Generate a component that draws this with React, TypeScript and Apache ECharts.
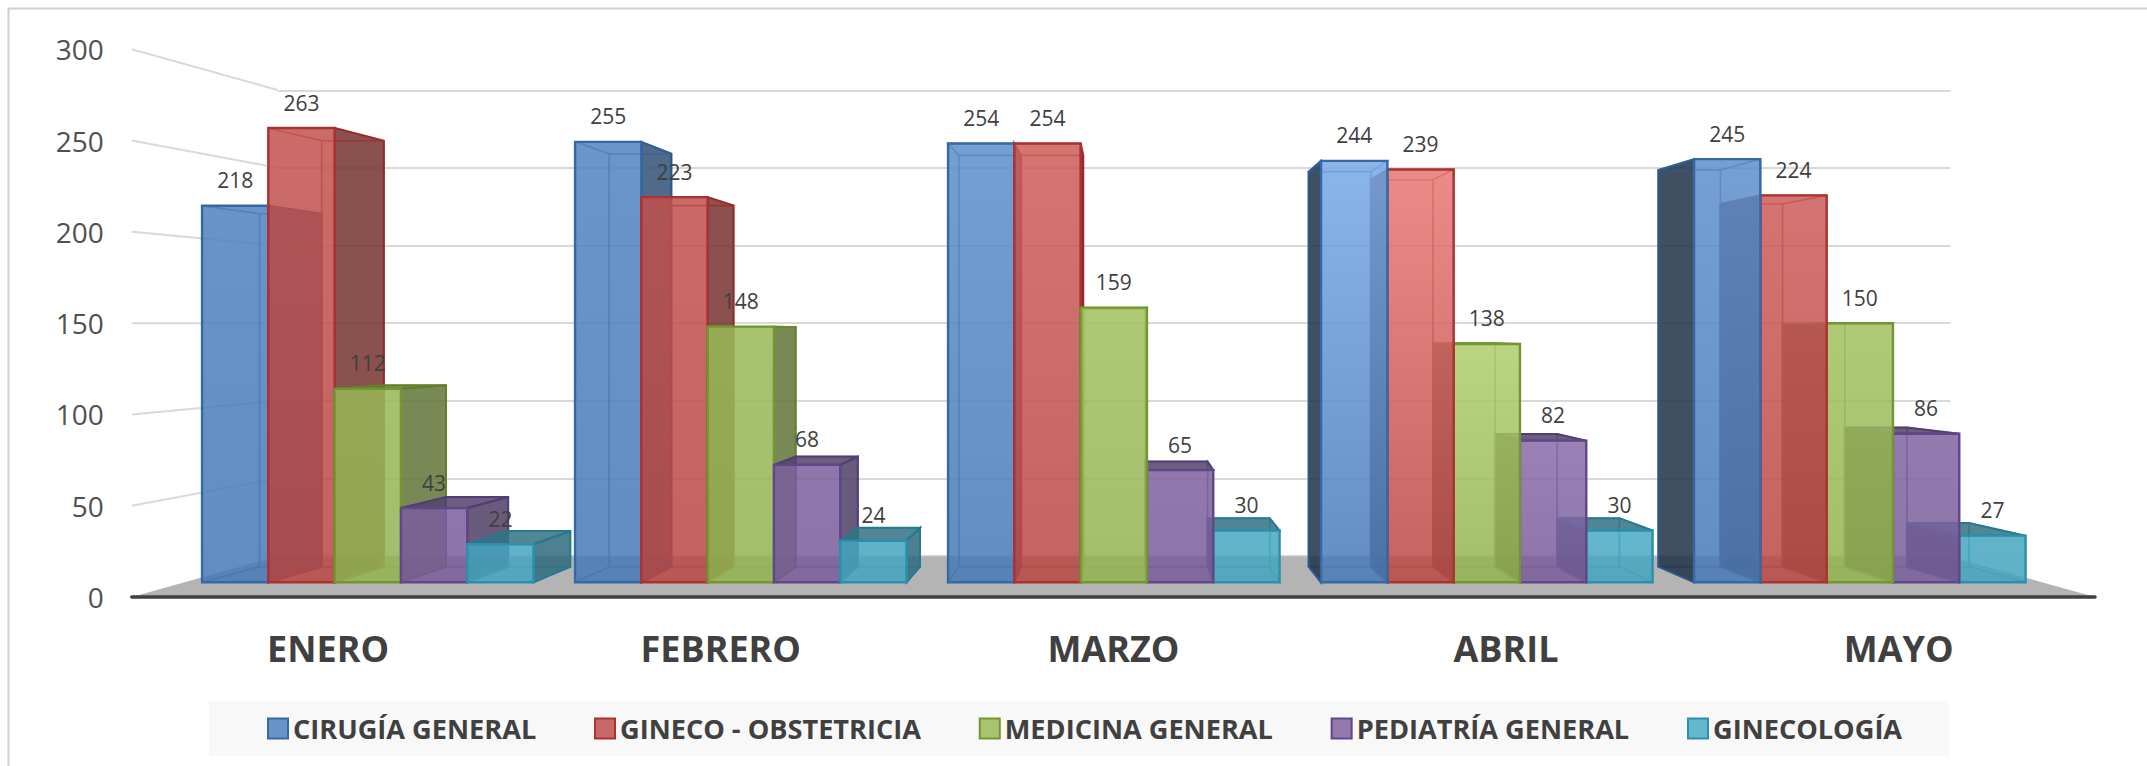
import React, { useEffect, useRef } from "react";
import * as echarts from "echarts";

const months = ["ENERO", "FEBRERO", "MARZO", "ABRIL", "MAYO"];
const seriesNames = ["CIRUGÍA GENERAL", "GINECO - OBSTETRICIA", "MEDICINA GENERAL", "PEDIATRÍA GENERAL", "GINECOLOGÍA"];
const cirugia = [218, 255, 254, 244, 245];
const gineco = [263, 223, 254, 239, 224];
const medicina = [112, 148, 159, 138, 150];
const pediatria = [43, 68, 65, 82, 86];
const ginecologia = [22, 24, 30, 30, 27];
const wallTicks = [0, 50, 100, 150, 200, 250, 300];

const allValues = [cirugia, gineco, medicina, pediatria, ginecologia];
const baseColors = [
  [79, 129, 189],
  [192, 80, 77],
  [155, 187, 89],
  [128, 100, 162],
  [75, 172, 198],
];
const edgeColors = [
  [54, 104, 166],
  [170, 50, 50],
  [116, 150, 48],
  [96, 72, 136],
  [44, 144, 172],
];
// front-face light per month (added to rgb at the top of a tall bar)
const monthLight = [2, 2, 14, 44, 16];

const ALPHA = 0.85;
const FONT = '"Open Sans", sans-serif';
const W = 2147;
const H = 766;

// perspective of the bars: front plane -> back plane
const VX = 1122;
const VY = 333;
const DEPTH = 0.9375;
const BAR_SHARE = 66.3 / 373;

const project = (p: number[]) => [VX + DEPTH * (p[0] - VX), VY + DEPTH * (p[1] - VY)];
const clamp = (c: number) => Math.max(0, Math.min(255, Math.round(c)));
const rgba = (c: number[], a: number) => `rgba(${clamp(c[0])},${clamp(c[1])},${clamp(c[2])},${a})`;
const mul = (c: number[], f: number) => c.map((x) => x * f);
const add = (c: number[], d: number) => c.map((x) => x + d);

function barRenderer(si: number) {
  return (_params: any, api: any) => {
    const cat = api.value(0);
    const val = api.value(1);
    const center = api.coord([cat, val]);
    const base = api.coord([cat, 0]);
    const band = api.size([1, 0])[0];
    const bw = band * BAR_SHARE;
    const xL = center[0] + (si - 2.5) * bw;
    const xR = xL + bw;
    const yT = center[1];
    const yB = base[1];

    const fTL = [xL, yT], fTR = [xR, yT], fBR = [xR, yB], fBL = [xL, yB];
    const bTL = project(fTL), bTR = project(fTR), bBR = project(fBR), bBL = project(fBL);

    const color = baseColors[si];
    const edge = rgba(edgeColors[si], 1);
    const softEdge = rgba(edgeColors[si], 0.55);
    const rank = Math.round(3000 - Math.abs((xL + xR) / 2 - VX)) * 10;

    const poly = (points: number[][], style: any, k: number) => ({
      type: "polygon",
      shape: { points },
      style,
      z2: rank + k,
      silent: true,
    });
    const ghost = { fill: "none", stroke: softEdge, lineWidth: 1.6 };
    const children: any[] = [];

    // faces turned away from the viewer: only their edges show through
    children.push(poly([bTL, bTR, bBR, bBL], ghost, 0));
    children.push(poly([fBL, fBR, bBR, bBL], ghost, 1));

    const dark = (f: number) => ({ fill: rgba(mul(color, f), ALPHA), stroke: rgba(mul(edgeColors[si], 0.85), 1), lineWidth: 2 });
    if (xR < VX) children.push(poly([fTR, bTR, bBR, fBR], dark(0.62), 2));
    else children.push(poly([fTR, bTR, bBR, fBR], ghost, 2));
    if (xL > VX) children.push(poly([fTL, bTL, bBL, fBL], dark(0.38), 3));
    else children.push(poly([fTL, bTL, bBL, fBL], ghost, 3));
    if (yT > VY) children.push(poly([fTL, fTR, bTR, bTL], dark(0.66), 4));
    else children.push(poly([fTL, fTR, bTR, bTL], ghost, 4));

    const light = -8 + (monthLight[cat] + 8) * (val / 263);
    children.push(
      poly(
        [fTL, fTR, fBR, fBL],
        {
          fill: new echarts.graphic.LinearGradient(0, 0, 0, 1, [
            { offset: 0, color: rgba(add(color, light), ALPHA) },
            { offset: 1, color: rgba(add(color, -8), ALPHA) },
          ]),
          stroke: edge,
          lineWidth: 2.4,
        },
        5
      )
    );

    children.push({
      type: "text",
      z2: 100000,
      silent: true,
      style: {
        x: (xL + xR) / 2,
        y: yT - 25.5,
        text: String(val),
        align: "center",
        verticalAlign: "middle",
        fontFamily: FONT,
        fontSize: 21,
        fill: "#404040",
      },
    });
    return { type: "group", children };
  };
}

// floor and left wall of the 3D box, from the labelled axis to the back wall
const WALL_DEPTH = 0.8513;
const WALL_VY = 323;
function wallRenderer(params: any, api: any) {
  const v = api.value(1);
  const cs = params.coordSys;
  const y = api.coord([0, v])[1];
  const cx = cs.x + cs.width / 2;
  const xb = cx + WALL_DEPTH * (cs.x - cx);
  const xbR = cx + WALL_DEPTH * (cs.x + cs.width - cx);
  const yb = WALL_VY + WALL_DEPTH * (y - WALL_VY);
  if (v === 0) {
    return {
      type: "polygon",
      silent: true,
      shape: { points: [[cs.x, y], [cs.x + cs.width, y], [xbR, yb], [xb, yb]] },
      style: { fill: "#b4b4b4" },
    };
  }
  return {
    type: "line",
    silent: true,
    shape: { x1: cs.x, y1: y, x2: xb, y2: yb },
    style: { stroke: "#d9d9d9", lineWidth: 2 },
  };
}

export default function App() {
  const ref = useRef<HTMLDivElement>(null);
  useEffect(() => {
    const chart = echarts.init(ref.current!, undefined, { renderer: "svg" });
    const hiddenX = (i: number) => ({ type: "category", gridIndex: i, data: months, show: false });
    const hiddenY = (i: number, grid: boolean) => ({
      type: "value",
      gridIndex: i,
      min: 0,
      max: 300,
      interval: 50,
      axisLabel: { show: false },
      axisLine: { show: false },
      axisTick: { show: false },
      splitLine: { show: grid, lineStyle: { color: "#d9d9d9", width: 2 } },
    });
    chart.setOption({
      animation: false,
      backgroundColor: "#ffffff",
      textStyle: { fontFamily: FONT },
      graphic: [
        { type: "line", shape: { x1: 8, y1: 8.5, x2: W, y2: 8.5 }, style: { stroke: "#d0d0d0", lineWidth: 2 } },
        { type: "line", shape: { x1: 8.5, y1: 8, x2: 8.5, y2: H }, style: { stroke: "#d0d0d0", lineWidth: 2 } },
      ],
      grid: [
        { left: 131.8, right: W - 2095, top: 49.3, bottom: H - 597 },
        { left: 181.3, width: 1865, top: 64.1, height: 518.2 },
        { left: 277.8, right: W - 1950.4, top: 90.4, height: 465.6 },
      ],
      xAxis: [
        {
          type: "category",
          gridIndex: 0,
          data: months,
          z: 3,
          axisTick: { show: false },
          axisLine: { lineStyle: { color: "#404040", width: 3.5, cap: "round" } },
          axisLabel: { margin: 33, fontFamily: FONT, fontSize: 36, fontWeight: "bold", color: "#404040" },
        },
        hiddenX(1),
        hiddenX(2),
      ],
      yAxis: [
        {
          type: "value",
          gridIndex: 0,
          min: 0,
          max: 300,
          interval: 50,
          axisLine: { show: false },
          axisTick: { show: false },
          splitLine: { show: false },
          axisLabel: { margin: 28, fontFamily: FONT, fontSize: 28, color: "#505050" },
        },
        hiddenY(1, false),
        hiddenY(2, true),
      ],
      legend: {
        left: 209,
        top: 701,
        orient: "horizontal",
        itemWidth: 20,
        itemHeight: 20,
        itemGap: 57.8,
        padding: [12.5, 47, 12.5, 58],
        backgroundColor: "#f8f8f8",
        selectedMode: false,
        textStyle: { fontFamily: FONT, fontSize: 27.15, fontWeight: "bold", color: "#404040", lineHeight: 30 },
        data: seriesNames.map((name, i) => ({
          name,
          icon: "rect",
          itemStyle: { color: rgba(baseColors[i], ALPHA), borderColor: rgba(edgeColors[i], 1), borderWidth: 2 },
        })),
      },
      series: [
        {
          type: "custom",
          name: "wall",
          xAxisIndex: 0,
          yAxisIndex: 0,
          z: 1,
          silent: true,
          renderItem: wallRenderer,
          encode: { x: 0, y: 1 },
          data: wallTicks.map((v) => [0, v]),
        },
        ...seriesNames.map((name, si) => ({
          type: "custom",
          name,
          xAxisIndex: 1,
          yAxisIndex: 1,
          z: 2,
          silent: true,
          itemStyle: { color: rgba(baseColors[si], ALPHA) },
          renderItem: barRenderer(si),
          encode: { x: 0, y: 1 },
          data: allValues[si].map((v, i) => [i, v]),
        })),
      ],
    });
    return () => chart.dispose();
  }, []);
  return <div ref={ref} style={{ position: "absolute", left: 0, top: 0, width: W, height: H }} />;
}
